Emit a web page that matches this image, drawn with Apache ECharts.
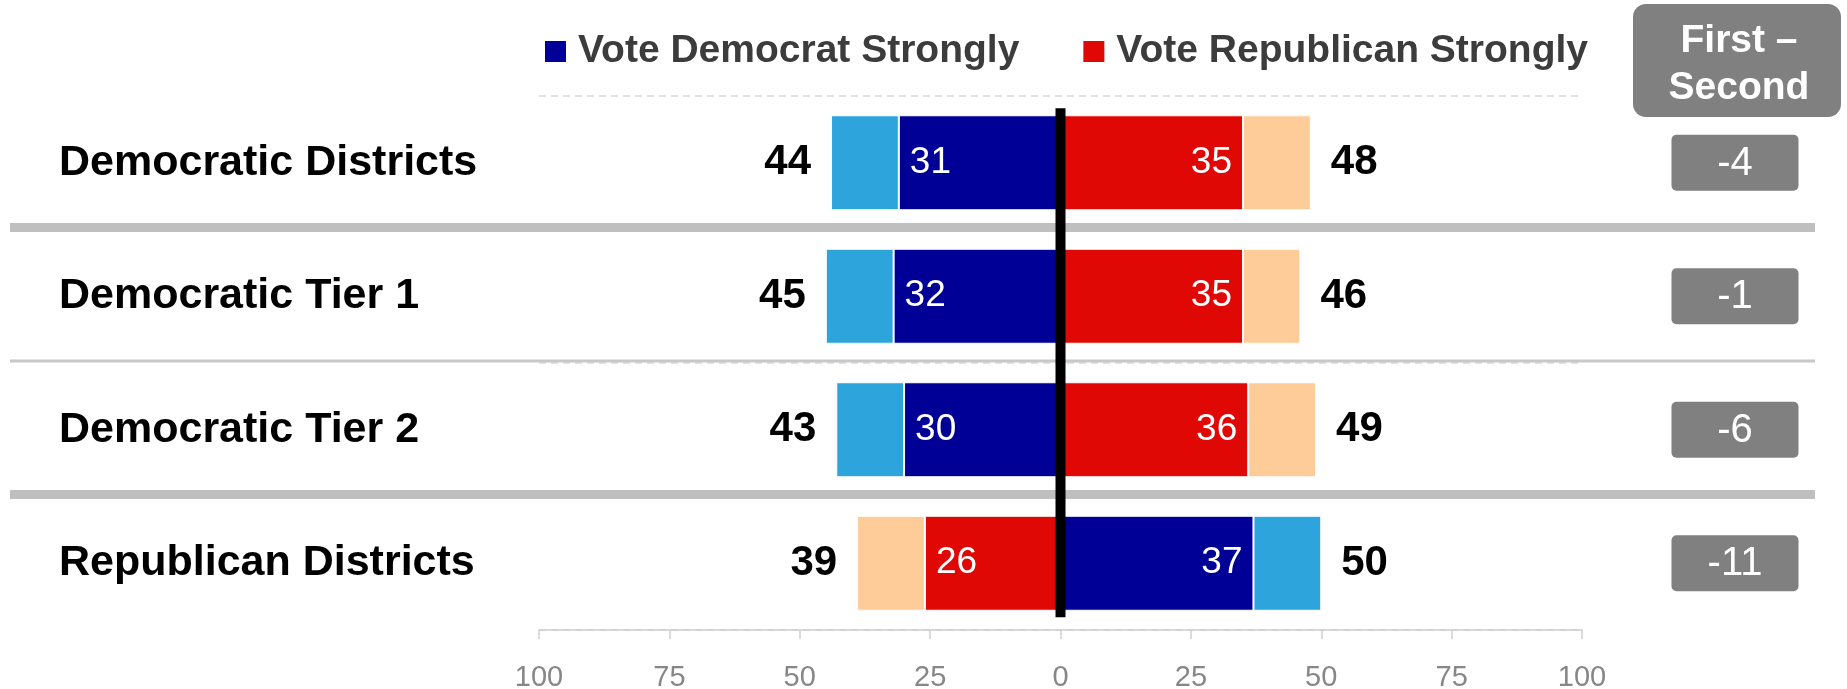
<!DOCTYPE html>
<html>
<head>
<meta charset="utf-8">
<script src="https://cdn.jsdelivr.net/npm/echarts@6/dist/echarts.min.js"></script>
<style>
  html, body { margin: 0; padding: 0; background: #fff; }
  #chart { width: 1847px; height: 689px; }
</style>
</head>
<body>
<div id="chart"></div>
<script>
// ---- Data ----
const categories = ['Democratic Districts', 'Democratic Tier 1', 'Democratic Tier 2', 'Republican Districts'];
const leftParty = ['D', 'D', 'D', 'R'];           // which party is drawn on the left side
const demStrong = [31, 32, 30, 37];
const demTotal  = [44, 45, 43, 50];
const repStrong = [35, 35, 36, 26];
const repTotal  = [48, 46, 49, 39];
const diffs     = [-4, -1, -6, -11];              // "First – Second"
const axisMin = -100, axisMax = 100, axisStep = 25;

const FONT = 'Liberation Sans, Arial, Helvetica, sans-serif';
const C_DEM = '#000096', C_DEM_L = '#2da5dc', C_REP = '#df0805', C_REP_L = '#fecc99';

function sgn(i, party) { return leftParty[i] === party ? -1 : 1; }

function strongData(vals, party) {
  return vals.map((v, i) => {
    const s = sgn(i, party);
    return { value: s * v, label: { position: s < 0 ? 'insideLeft' : 'insideRight' } };
  });
}
function leanData(strong, total, party) {
  return total.map((t, i) => {
    const s = sgn(i, party);
    return { value: s * (t - strong[i]), label: { position: s < 0 ? 'left' : 'right' } };
  });
}

const strongLabel = { show: true, color: '#fff', fontSize: 37, fontFamily: FONT, distance: 11,
  formatter: p => Math.abs(p.value) };
const barBase = { type: 'bar', stack: 'all', barWidth: 95, xAxisIndex: 0, yAxisIndex: 0,
  emphasis: { disabled: true } };

const chart = echarts.init(document.getElementById('chart'), null, { renderer: 'canvas' });

const option = {
  animation: false,
  textStyle: { fontFamily: FONT },
  legend: {
    data: ['Vote Democrat Strongly', 'Vote Republican Strongly'],
    left: 545, top: 32, padding: 0, icon: 'rect', itemWidth: 21, itemHeight: 21, itemGap: 64,
    itemStyle: { borderWidth: 0 },
    selectedMode: false,
    textStyle: { fontSize: 39, fontWeight: 'bold', color: '#3c3c3c', fontFamily: FONT, padding: [0, 0, 0, 7] }
  },
  grid: [
    { left: 539, right: 265, top: 96, bottom: 59, containLabel: false, outerBoundsMode: 'none' },
    { left: 1635, width: 200, top: 96, bottom: 59, containLabel: false, outerBoundsMode: 'none' }
  ],
  xAxis: [
    {
      type: 'value', min: axisMin, max: axisMax, interval: axisStep, gridIndex: 0,
      axisLine: { show: true, lineStyle: { color: '#cfcfcf', width: 1.5 } },
      axisTick: { show: true, length: 9, lineStyle: { color: '#cfcfcf', width: 1.5 } },
      splitLine: { show: false },
      axisLabel: { color: '#878787', fontSize: 29, fontFamily: FONT, margin: 33,
        formatter: v => Math.abs(v) }
    },
    { type: 'value', min: -1, max: 1, gridIndex: 1, show: false }
  ],
  yAxis: [
    {
      type: 'category', data: categories, inverse: true, gridIndex: 0,
      axisLine: { show: false }, axisTick: { show: false },
      splitLine: { show: true, lineStyle: { color: '#d9d9d9', type: [7, 5], width: 1.5 } },
      axisLabel: { align: 'left', margin: 480, fontSize: 43, fontWeight: 'bold', color: '#000',
        fontFamily: FONT, padding: [0, 0, 14, 0] }
    },
    { type: 'category', data: categories, inverse: true, gridIndex: 1, show: false }
  ],
  series: [
    Object.assign({}, barBase, { name: 'Vote Democrat Strongly', color: C_DEM,
      itemStyle: { color: C_DEM, borderColor: '#fff', borderWidth: 1 },
      label: strongLabel, data: strongData(demStrong, 'D') }),
    Object.assign({}, barBase, { name: 'Lean Democrat', color: C_DEM_L,
      itemStyle: { color: C_DEM_L, borderColor: '#fff', borderWidth: 1 },
      label: { show: true, color: '#000', fontSize: 42, fontWeight: 'bold', fontFamily: FONT, distance: 20,
        formatter: p => demTotal[p.dataIndex] },
      data: leanData(demStrong, demTotal, 'D') }),
    Object.assign({}, barBase, { name: 'Vote Republican Strongly', color: C_REP,
      itemStyle: { color: C_REP, borderColor: '#fff', borderWidth: 1 },
      label: strongLabel, data: strongData(repStrong, 'R') }),
    Object.assign({}, barBase, { name: 'Lean Republican', color: C_REP_L,
      itemStyle: { color: C_REP_L, borderColor: '#fff', borderWidth: 1 },
      label: { show: true, color: '#000', fontSize: 42, fontWeight: 'bold', fontFamily: FONT, distance: 20,
        formatter: p => repTotal[p.dataIndex] },
      data: leanData(repStrong, repTotal, 'R') }),
    {
      type: 'custom', name: 'diff', xAxisIndex: 1, yAxisIndex: 1,
      emphasis: { disabled: true },
      renderItem: (params, api) => {
        const p = api.coord([api.value(0), api.value(1)]);
        return {
          type: 'group',
          children: [
            { type: 'rect', shape: { x: p[0] - 63.5, y: p[1] - 28, width: 127, height: 56, r: 5 },
              style: { fill: '#808080' } },
            { type: 'text', x: p[0], y: p[1] + 1,
              style: { text: String(api.value(2)), fill: '#fff', font: '40px ' + FONT,
                align: 'center', verticalAlign: 'middle' } }
          ]
        };
      },
      data: diffs.map((d, i) => [0, i, d])
    }
  ],
  graphic: []
};

chart.setOption(option);

// Decorations placed through the chart's own coordinate conversion
const x0 = chart.convertToPixel({ xAxisIndex: 0 }, 0);
const yc = categories.map(c => chart.convertToPixel({ yAxisIndex: 0 }, c));
const bounds = [];
for (let i = 0; i < yc.length - 1; i++) bounds.push((yc[i] + yc[i + 1]) / 2 - 2);
const sepWidths = [9, 3, 9];
const graphics = [];
bounds.forEach((b, i) => {
  graphics.push({ type: 'line', z: 1, shape: { x1: 10, y1: b, x2: 1815, y2: b },
    style: { stroke: i === 1 ? '#c8c8c8' : '#bfbfbf', lineWidth: sepWidths[i] } });
});
graphics.push({ type: 'line', z: 100, shape: { x1: x0, y1: yc[0] - 54.5, x2: x0, y2: yc[yc.length - 1] + 54 },
  style: { stroke: '#000', lineWidth: 10 } });
graphics.push({ type: 'rect', z: 10, shape: { x: 1633, y: 4, width: 208, height: 113, r: 13 },
  style: { fill: '#808080' } });
graphics.push({ type: 'text', z: 11, x: 1739, y: 65,
  style: { text: 'First –\nSecond', fill: '#fff', font: 'bold 39px ' + FONT, lineHeight: 47,
    align: 'center', verticalAlign: 'middle' } });
chart.setOption({ graphic: graphics });
</script>
</body>
</html>
